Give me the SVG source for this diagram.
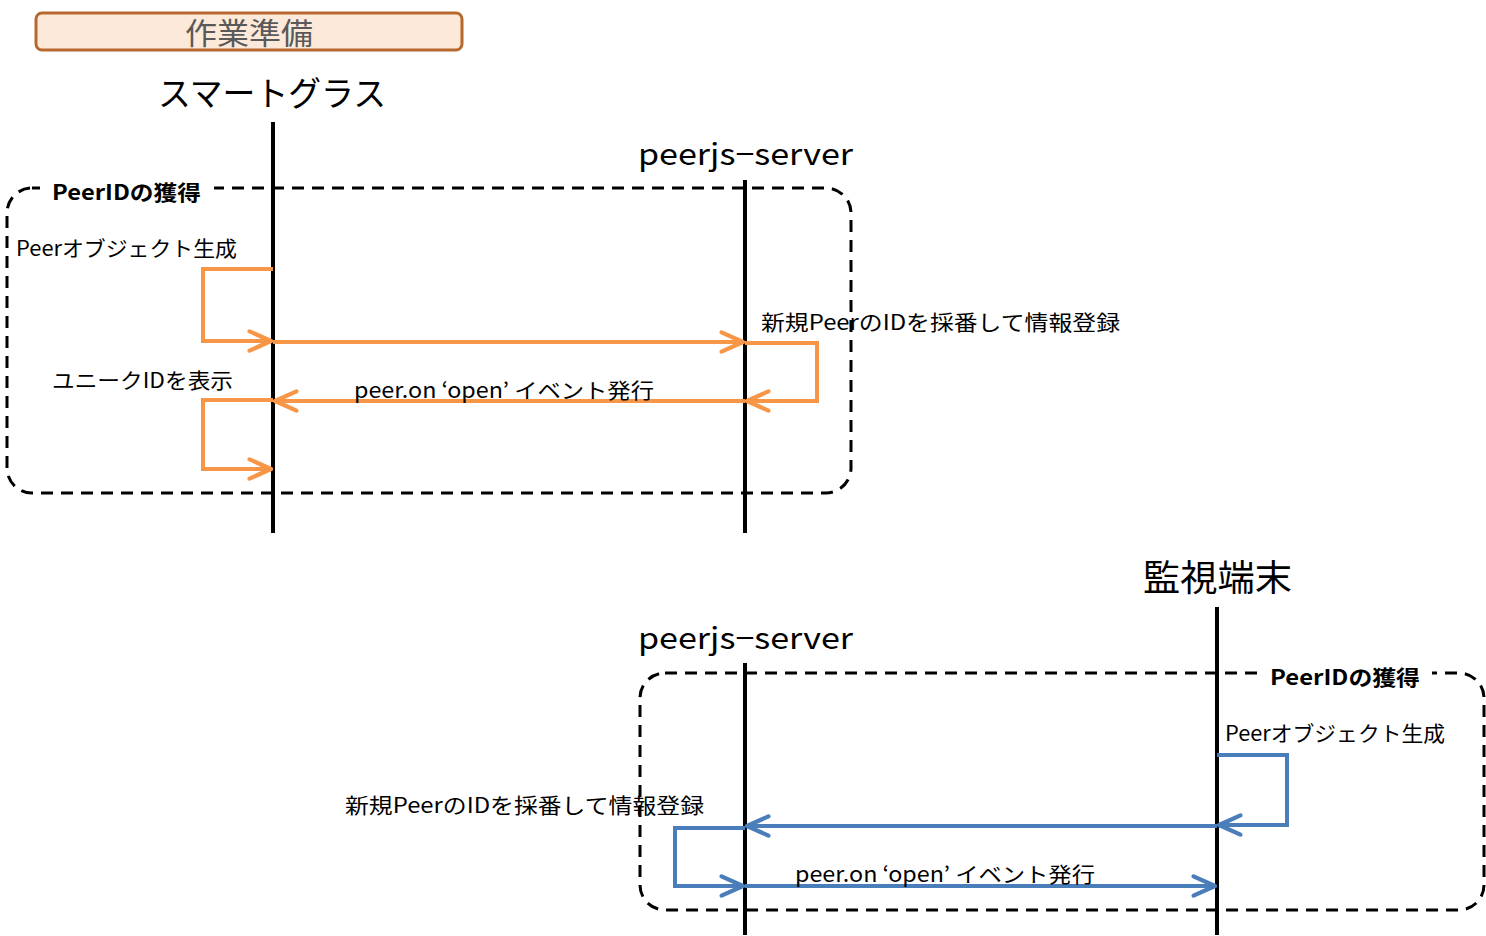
<svg xmlns="http://www.w3.org/2000/svg" width="1486" height="936" viewBox="0 0 1486 936">
<style>
text{font-family:"Noto Sans CJK JP","Liberation Sans",sans-serif;fill:#000}
.lbl{font-size:21px}
.ttl{font-size:21px;font-weight:bold}
.life{stroke:#000;stroke-width:4;fill:none}
.frame{fill:none;stroke:#000;stroke-width:3;stroke-dasharray:12 8}
.or{fill:none;stroke:#F79646;stroke-width:4;stroke-linejoin:miter}
.bl{fill:none;stroke:#4A7EBB;stroke-width:4;stroke-linejoin:miter}
</style>
<defs>
<marker id="ao" markerUnits="userSpaceOnUse" markerWidth="30" markerHeight="30" viewBox="-24 -12 28 24" refX="0" refY="0" orient="auto" overflow="visible">
<path d="M-20,-9 L0,0 L-20,9" fill="none" stroke="#F79646" stroke-width="4" stroke-linecap="round" stroke-linejoin="round"/>
</marker>
<marker id="ab" markerUnits="userSpaceOnUse" markerWidth="30" markerHeight="30" viewBox="-24 -12 28 24" refX="0" refY="0" orient="auto" overflow="visible">
<path d="M-20,-9 L0,0 L-20,9" fill="none" stroke="#4A7EBB" stroke-width="4" stroke-linecap="round" stroke-linejoin="round"/>
</marker>
</defs>
<rect width="1486" height="936" fill="#fff"/>
<g id="header">
<rect x="36" y="13" width="426" height="37" rx="6" fill="#FDE9D9" stroke="#B6682F" stroke-width="3"/>
<text x="185" y="44" font-size="30" textLength="128" lengthAdjust="spacingAndGlyphs" style="fill:#595959">作業準備</text>
</g>
<g id="frame1">
<rect class="frame" x="7" y="188" width="844" height="305" rx="25"/>
<rect x="40" y="176" width="174" height="26" fill="#fff"/>
<text class="ttl" x="52" y="200" textLength="149" lengthAdjust="spacingAndGlyphs">PeerIDの獲得</text>
</g>
<g id="frame2">
<rect class="frame" x="640" y="673" width="844" height="237" rx="25"/>
<rect x="1257" y="661" width="175" height="26" fill="#fff"/>
<text class="ttl" x="1270" y="685" textLength="150" lengthAdjust="spacingAndGlyphs">PeerIDの獲得</text>
</g>
<g id="smartglass">
<text x="158" y="106" font-size="34" textLength="228" lengthAdjust="spacingAndGlyphs">スマートグラス</text>
<line class="life" x1="273" y1="122" x2="273" y2="533"/>
</g>
<g id="server1">
<text x="638" y="165" font-size="30" textLength="215" lengthAdjust="spacingAndGlyphs">peerjs−server</text>
<line class="life" x1="745" y1="180" x2="745" y2="533"/>
</g>
<g id="monitor">
<text x="1143" y="591" font-size="36" textLength="149" lengthAdjust="spacingAndGlyphs">監視端末</text>
<line class="life" x1="1217" y1="607" x2="1217" y2="935"/>
</g>
<g id="server2">
<text x="638" y="649" font-size="30" textLength="215" lengthAdjust="spacingAndGlyphs">peerjs−server</text>
<line class="life" x1="745" y1="663" x2="745" y2="935"/>
</g>
<g id="connectors">
<polyline class="or" points="273,269 203,269 203,341 271,341" marker-end="url(#ao)"/>
<line class="or" x1="273" y1="342" x2="743" y2="342" marker-end="url(#ao)"/>
<polyline class="or" points="745,343 817,343 817,401 747,401" marker-end="url(#ao)"/>
<line class="or" x1="745" y1="401" x2="275" y2="401" marker-end="url(#ao)"/>
<polyline class="or" points="273,400 203,400 203,469 271,469" marker-end="url(#ao)"/>
<polyline class="bl" points="1217,755 1287,755 1287,825 1219,825" marker-end="url(#ab)"/>
<line class="bl" x1="1217" y1="826" x2="747" y2="826" marker-end="url(#ab)"/>
<polyline class="bl" points="745,828 675,828 675,886 743,886" marker-end="url(#ab)"/>
<line class="bl" x1="745" y1="886" x2="1215" y2="886" marker-end="url(#ab)"/>
</g>
<g id="labels">
<text class="lbl" x="16" y="256" textLength="221" lengthAdjust="spacingAndGlyphs">Peerオブジェクト生成</text>
<text class="lbl" x="52" y="388" textLength="181" lengthAdjust="spacingAndGlyphs">ユニークIDを表示</text>
<text class="lbl" x="761" y="330" textLength="359" lengthAdjust="spacingAndGlyphs">新規PeerのIDを採番して情報登録</text>
<text class="lbl" x="354" y="398" textLength="300" lengthAdjust="spacingAndGlyphs">peer.on ‘open’ イベント発行</text>
<text class="lbl" x="1225" y="741" textLength="220" lengthAdjust="spacingAndGlyphs">Peerオブジェクト生成</text>
<text class="lbl" x="345" y="813" textLength="359" lengthAdjust="spacingAndGlyphs">新規PeerのIDを採番して情報登録</text>
<text class="lbl" x="795" y="882" textLength="300" lengthAdjust="spacingAndGlyphs">peer.on ‘open’ イベント発行</text>
</g>
</svg>
